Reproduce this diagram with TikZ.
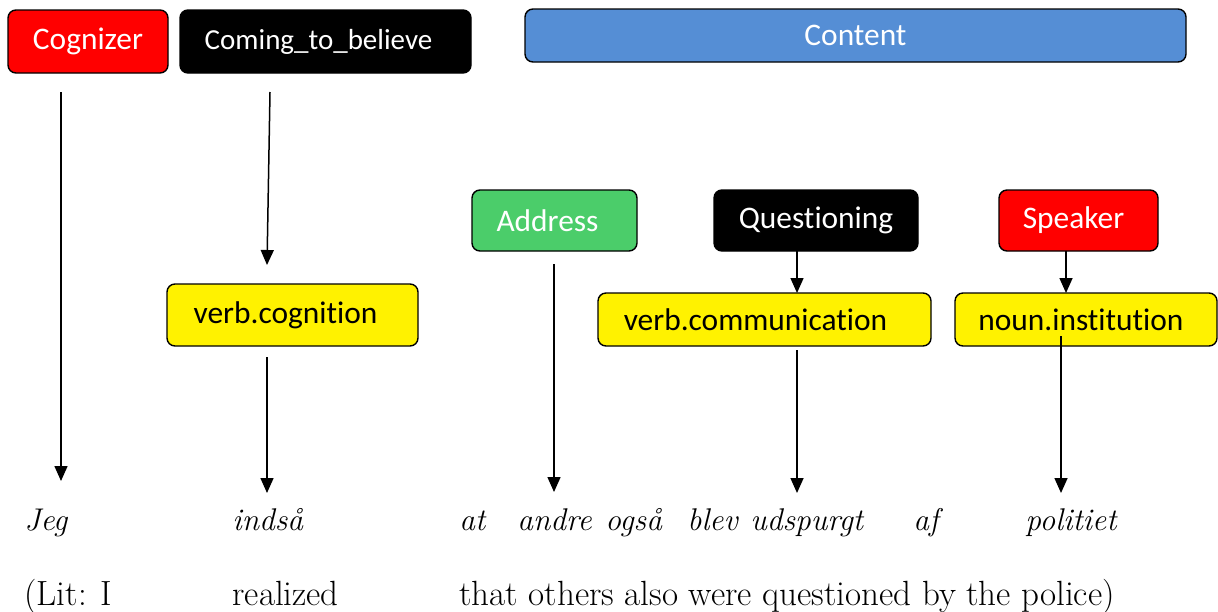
\documentclass[tikz,border=0pt]{standalone}
\usepackage{fontspec}
\newfontfamily\boxfont[Ligatures=NoCommon]{Carlito}
\usetikzlibrary{arrows.meta,positioning}
\definecolor{contentblue}{RGB}{85,142,213}
\definecolor{addrgreen}{RGB}{75,205,106}

\begin{document}
\begin{tikzpicture}[x=0.5pt,y=-0.5pt,>={Triangle[length=7.5pt,width=6.5pt]},
frame/.style = {draw, rounded corners=4pt, line width=0.7pt, inner sep=0pt, font=\boxfont\fontsize{15.7}{19}\selectfont},
role/.style = {frame, text=white},
sense/.style = {frame, fill=yellow, text=black},
pad/.style = {execute at end node={\hspace*{#1}}},
word/.style = {anchor=base west, inner sep=0pt, font=\fontsize{15.7}{19}\selectfont\itshape},
gloss/.style = {anchor=base west, inner sep=0pt, font=\fontsize{17.5}{21}\selectfont},
link/.style = {->, line width=0.75pt}]
\useasboundingbox (0,0) rectangle (1218,611);
% frames
\node (cog) at (88,41.5)[role,fill=red,minimum width=80pt,minimum height=31.5pt] {Cognizer};
\node (ctb) at (325.5,41.5)[role,fill=black,minimum width=145.5pt,minimum height=31.5pt,pad=7pt,font=\boxfont\fontsize{14.5}{17}\selectfont] {Coming\_to\_believe};
\node (cont) at (855.5,35.5)[role,fill=contentblue,minimum width=330.5pt,minimum height=26.5pt] {Content};
\node (adr) at (554.5,220.5)[role,fill=addrgreen,minimum width=82.5pt,minimum height=30.5pt,pad=7pt] {Address};
\node (qst) at (816,220.5)[role,fill=black,minimum width=102pt,minimum height=30.5pt] {Questioning};
\node (spk) at (1078.5,220.5)[role,fill=red,minimum width=79.5pt,minimum height=30.5pt,pad=5pt] {Speaker};
% senses
\node (vcog) at (292.5,315)[sense,minimum width=125.5pt,minimum height=31pt,pad=7pt] {verb.cognition};
\node (vcom) at (764.5,319.5)[sense,minimum width=166.5pt,minimum height=26.5pt,pad=9pt] {verb.communication};
\node (ninst) at (1086,319.5)[sense,minimum width=131pt,minimum height=26.5pt,pad=5pt] {noun.institution};
% words
\node (jeg) at (24,530)[word] {Jeg};
\node (inds) at (232,530)[word] {indså};
\node (at) at (459,530)[word] {at};
\node (andre) at (517,530)[word] {andre};
\node (ogsa) at (605,530)[word] {også};
\node (blev) at (687,530)[word] {blev};
\node (udsp) at (750,530)[word] {udspurgt};
\node (af) at (913,530)[word] {af};
\node (pol) at (1025,530)[word] {politiet};
% gloss
\node (lit) at (24,605)[gloss] {(Lit: I};
\node (real) at (232,605)[gloss] {realized};
\node (rest) at (459,605)[gloss] {that others also were questioned by\ the police)};
% arrow ends
\coordinate (cogS) at (61,92);
\coordinate (cogE) at (61,481);
\coordinate (ctbS) at (270,92);
\coordinate (ctbE) at (267,265);
\coordinate (vcogS) at (267,357);
\coordinate (vcogE) at (267,493);
\coordinate (adrS) at (554,264);
\coordinate (adrE) at (554,492);
\coordinate (qstS) at (797,251);
\coordinate (qstE) at (797,293);
\coordinate (spkS) at (1066,251);
\coordinate (spkE) at (1066,293);
\coordinate (vcomS) at (797,350);
\coordinate (vcomE) at (797,493);
\coordinate (ninstS) at (1061,336);
\coordinate (ninstE) at (1061,493);
\draw[link] (cogS)--(cogE);
\draw[link] (ctbS)--(ctbE);
\draw[link] (vcogS)--(vcogE);
\draw[link] (adrS)--(adrE);
\draw[link] (qstS)--(qstE);
\draw[link] (spkS)--(spkE);
\draw[link] (vcomS)--(vcomE);
\draw[link] (ninstS)--(ninstE);
\end{tikzpicture}
\end{document}
